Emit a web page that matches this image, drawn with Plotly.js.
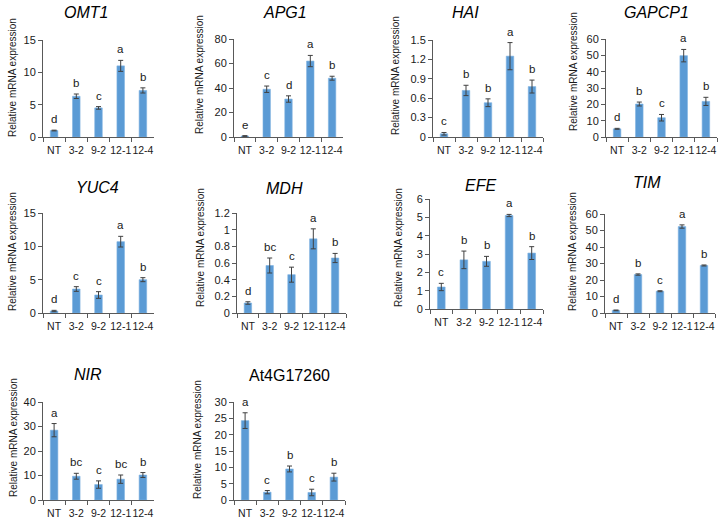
<!DOCTYPE html>
<html>
<head>
<meta charset="utf-8">
<script src="https://cdn.plot.ly/plotly-3.0.1.min.js"></script>
<style>html,body{margin:0;padding:0;background:#fff;}#chart{width:720px;height:522px;}</style>
</head>
<body>
<div id="chart"></div>
<script>
// ---- data ----
const categories = ["NT", "3-2", "9-2", "12-1", "12-4"];
const geneNames = ["OMT1", "APG1", "HAI", "GAPCP1", "YUC4", "MDH", "EFE", "TIM", "NIR", "At4G17260"];
const italicTitle = [true, true, true, true, true, true, true, true, true, false];

const omt1Mean = [1.0, 6.3, 4.5, 11.0, 7.2];
const omt1Err = [0.06, 0.35, 0.2, 0.85, 0.4];
const omt1Letters = ["d", "b", "c", "a", "b"];

const apg1Mean = [0.8, 39, 31, 62, 48];
const apg1Err = [0.3, 2.6, 2.6, 4.6, 1.6];
const apg1Letters = ["e", "c", "d", "a", "b"];

const haiMean = [0.05, 0.72, 0.53, 1.25, 0.78];
const haiErr = [0.02, 0.08, 0.06, 0.21, 0.1];
const haiLetters = ["c", "b", "b", "a", "b"];

const gapcp1Mean = [5.0, 20.2, 11.8, 49.8, 21.8];
const gapcp1Err = [0.3, 1.2, 2.0, 3.8, 2.5];
const gapcp1Letters = ["d", "b", "c", "a", "b"];

const yuc4Mean = [0.3, 3.6, 2.7, 10.7, 5.0];
const yuc4Err = [0.1, 0.35, 0.5, 0.8, 0.3];
const yuc4Letters = ["d", "c", "c", "a", "b"];

const mdhMean = [0.12, 0.57, 0.46, 0.89, 0.66];
const mdhErr = [0.015, 0.09, 0.09, 0.12, 0.055];
const mdhLetters = ["d", "bc", "c", "a", "b"];

const efeMean = [1.2, 2.68, 2.6, 5.1, 3.05];
const efeErr = [0.2, 0.48, 0.27, 0.06, 0.35];
const efeLetters = ["c", "b", "b", "a", "b"];

const timMean = [1.6, 23.3, 13.2, 52.4, 28.8];
const timErr = [0.2, 0.4, 0.3, 1.0, 0.3];
const timLetters = ["d", "b", "c", "a", "b"];

const nirMean = [28.5, 9.7, 6.3, 8.5, 10.2];
const nirErr = [2.7, 1.2, 1.5, 1.7, 1.0];
const nirLetters = ["a", "bc", "c", "bc", "b"];

const at4gMean = [24.3, 2.4, 9.5, 2.3, 7.0];
const at4gErr = [2.4, 0.5, 0.9, 1.0, 1.2];
const at4gLetters = ["a", "c", "b", "c", "b"];

const yMax = [15, 80, 1.5, 60, 15, 1.2, 6, 60, 40, 30];
const yStep = [5, 20, 0.3, 10, 5, 0.2, 1, 10, 10, 5];

const means = [omt1Mean, apg1Mean, haiMean, gapcp1Mean, yuc4Mean, mdhMean, efeMean, timMean, nirMean, at4gMean];
const errs = [omt1Err, apg1Err, haiErr, gapcp1Err, yuc4Err, mdhErr, efeErr, timErr, nirErr, at4gErr];
const letters = [omt1Letters, apg1Letters, haiLetters, gapcp1Letters, yuc4Letters, mdhLetters, efeLetters, timLetters, nirLetters, at4gLetters];

// ---- layout geometry (pixels): plot box [left, right, top, bottom], title centre, y-title centre ----
const W = 720, H = 522;
const boxes = [
  [43, 154, 40, 137], [234, 343, 39, 137], [433, 543, 40, 137], [606, 717, 39, 137],
  [43, 154, 213, 313], [237, 346, 213, 313], [430, 543, 199, 309], [605, 715, 214, 313],
  [43, 154, 402, 500], [234, 345, 402, 500]
];
const titlePos = [
  [86, 13], [285, 13], [465, 13], [656, 13],
  [97, 188], [284, 189], [481, 185], [647, 182],
  [88, 374], [289, 375]
];
const yTitlePos = [
  [12, 78], [199, 75], [395, 76], [573, 72],
  [12, 252], [200, 248], [398, 248], [572, 252],
  [13, 438], [197, 440]
];

const px = v => v / W;
const py = v => 1 - v / H;

const axisColor = "#595959";
const textColor = "#1a1a1a";
const font = "Liberation Sans, Arial, sans-serif";

const traces = [];
const annotations = [];
const layout = {
  width: W, height: H,
  margin: {l: 0, r: 0, t: 0, b: 0},
  paper_bgcolor: "#fff", plot_bgcolor: "#fff",
  showlegend: false,
  bargap: 0.66,
  font: {family: font, size: 10.5, color: textColor},
  annotations: annotations
};

geneNames.forEach((g, i) => {
  const n = i + 1;
  const xk = n === 1 ? "x" : "x" + n;
  const yk = n === 1 ? "y" : "y" + n;
  traces.push({
    type: "bar",
    x: categories,
    y: means[i],
    xaxis: xk, yaxis: yk,
    marker: {color: "#5B9BD5", line: {color: "#7EB1E0", width: 0.6}},
    error_y: {type: "data", array: errs[i], visible: true, color: "#404040", thickness: 1, width: 2.5},
    hoverinfo: "x+y"
  });
  const b = boxes[i];
  layout["xaxis" + (n === 1 ? "" : n)] = {
    domain: [px(b[0]), px(b[1])],
    anchor: yk,
    type: "category",
    showline: true, linecolor: axisColor, linewidth: 1,
    ticks: "outside", tickson: "boundaries", ticklen: 4, tickcolor: axisColor,
    showgrid: false, zeroline: false,
    tickangle: 0,
    ticklabelstandoff: 3,
    tickfont: {family: font, size: 10.5, color: textColor},
    fixedrange: true
  };
  layout["yaxis" + (n === 1 ? "" : n)] = {
    domain: [py(b[3]), py(b[2])],
    anchor: xk,
    range: [0, yMax[i]],
    tick0: 0, dtick: yStep[i],
    showline: true, linecolor: axisColor, linewidth: 1,
    ticks: "outside", ticklen: 4, tickcolor: axisColor,
    showgrid: false, zeroline: false,
    tickfont: {family: font, size: 11, color: textColor},
    fixedrange: true
  };
  // panel title
  annotations.push({
    xref: "paper", yref: "paper",
    x: px(titlePos[i][0]), y: py(titlePos[i][1]),
    xanchor: "center", yanchor: "middle",
    text: italicTitle[i] ? "<i>" + g + "</i>" : g,
    showarrow: false,
    font: {family: font, size: 16, color: "#000"}
  });
  // y-axis title
  annotations.push({
    xref: "paper", yref: "paper",
    x: px(yTitlePos[i][0]), y: py(yTitlePos[i][1]),
    xanchor: "center", yanchor: "middle",
    textangle: -90,
    text: "Relative mRNA expression",
    showarrow: false,
    font: {family: font, size: 10, color: textColor}
  });
  // significance letters
  categories.forEach((c, j) => {
    annotations.push({
      xref: xk, yref: yk,
      x: c, y: means[i][j] + errs[i][j],
      xanchor: "center", yanchor: "bottom",
      yshift: 3,
      text: letters[i][j],
      showarrow: false,
      font: {family: font, size: 11.5, color: textColor}
    });
  });
});

Plotly.newPlot("chart", traces, layout, {staticPlot: true, displayModeBar: false});
</script>
</body>
</html>
